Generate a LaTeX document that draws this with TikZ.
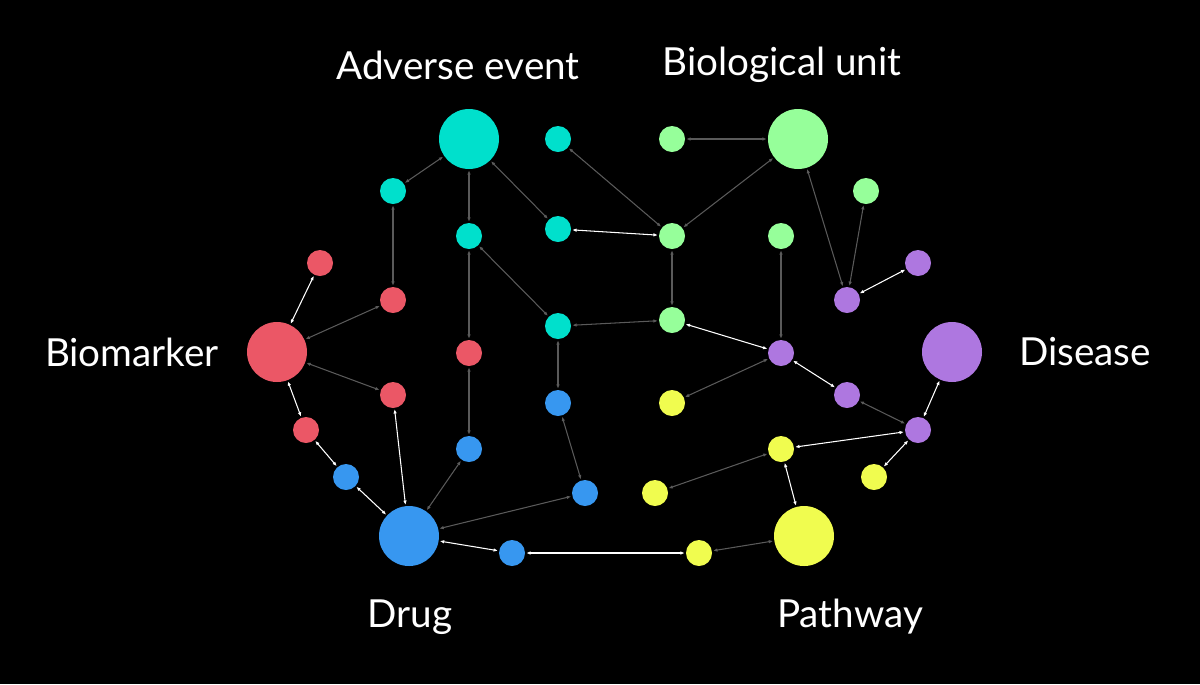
\documentclass[tikz,border=0pt]{standalone}
\usepackage{fontspec}
\setmainfont{Lato}
\usetikzlibrary{arrows.meta}
\definecolor{cteal}{HTML}{00E0CC}
\definecolor{cgreen}{HTML}{96FF9A}
\definecolor{cred}{HTML}{EB5766}
\definecolor{cblue}{HTML}{3797F0}
\definecolor{cpurple}{HTML}{AE77E0}
\definecolor{cyellow}{HTML}{F0FC4F}
\definecolor{edgegray}{HTML}{5A5A5A}
\begin{document}
\begin{tikzpicture}[x=0.02cm, y=-0.02cm,
  big/.style={circle, inner sep=0pt, minimum size=60*0.02cm},
  small/.style={circle, inner sep=0pt, minimum size=26*0.02cm},
  lbl/.style={text=white, font=\fontsize{22}{26}\selectfont},
  link/.style={{Latex[length=2.5pt,width=2pt]}-{Latex[length=2.5pt,width=2pt]}, line width=0.6pt, edgegray, shorten <=0.5pt, shorten >=0.5pt},
  wlink/.style={link, white}]
			% Background
			\fill[black] (0,0) rectangle (1200,684);
			
			% Large nodes
			\node[big, fill=cteal] (ae) at (469,139) {};
			\node[big, fill=cgreen] (bu) at (798,139) {};
			\node[big, fill=cred] (bm) at (277,352) {};
			\node[big, fill=cpurple] (ds) at (952,352) {};
			\node[big, fill=cblue] (dr) at (409,536) {};
			\node[big, fill=cyellow] (pw) at (804,536) {};
			
			% Small nodes
			\foreach \n/\x/\y in {t1/393/191, t2/558/139, t3/469/236, t4/558/229, t5/558/326}
				\node[small, fill=cteal] (\n) at (\x,\y) {};
			\foreach \n/\x/\y in {g1/672/139, g2/672/236, g3/672/320, g4/866/191, g5/781/236}
				\node[small, fill=cgreen] (\n) at (\x,\y) {};
			\foreach \n/\x/\y in {r1/320/263, r2/393/300, r3/469/353, r4/393/395, r5/306/430}
				\node[small, fill=cred] (\n) at (\x,\y) {};
			\foreach \n/\x/\y in {b1/558/403, b2/469/449, b3/346/477, b4/585/493, b5/512/553}
				\node[small, fill=cblue] (\n) at (\x,\y) {};
			\foreach \n/\x/\y in {p1/847/300, p2/918/263, p3/781/353, p4/847/395, p5/918/430}
				\node[small, fill=cpurple] (\n) at (\x,\y) {};
			\foreach \n/\x/\y in {y1/672/403, y2/781/449, y3/655/493, y4/874/477, y5/699/553}
				\node[small, fill=cyellow] (\n) at (\x,\y) {};
			
			% Gray links
			\foreach \a/\b in {ae/t1, ae/t3, ae/t4, t2/g2, t1/r2, g1/bu, bu/g2, g2/g3, t3/r3, t3/t5, t5/g3,
				bm/r2, bm/r4, r3/b2, b2/dr, t5/b1, b1/b4, dr/b4, y5/pw, bu/p1, g4/p1, g5/p3, p3/y1, p4/p5, y2/y3}
				\draw[link] (\a) -- (\b);
			
			% White links
			\foreach \a/\b in {t4/g2, g3/p3, bm/r1, bm/r5, r5/b3, b3/dr, r4/dr, dr/b5, b5/y5, p1/p2,
				p3/p4, p5/ds, p5/y2, y2/pw, p5/y4}
				\draw[wlink] (\a) -- (\b);
			
			% Labels
			\node[lbl] (lae) at (458,65) {Adverse event};
			\node[lbl] (lbu) at (782,65) {Biological unit};
			\node[lbl] (lbm) at (132,352) {Biomarker};
			\node[lbl] (lds) at (1085,352) {Disease};
			\node[lbl] (ldr) at (410,617) {Drug};
			\node[lbl] (lpw) at (850,617) {Pathway};
		\end{tikzpicture}
\end{document}
